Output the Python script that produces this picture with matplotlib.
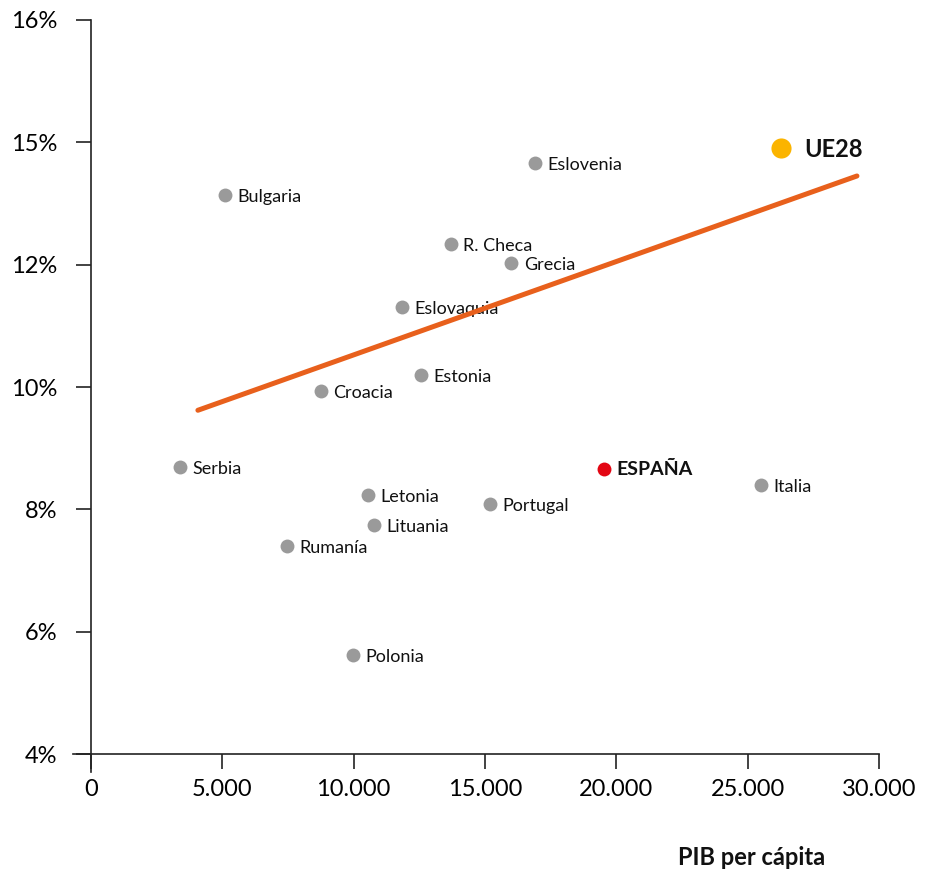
import matplotlib
matplotlib.use('Agg')
import matplotlib.pyplot as plt

plt.rcParams['font.family'] = ['Lato', 'DejaVu Sans']

# PIB per capita vs rate
countries = ["Bulgaria", "Eslovenia", "R. Checa", "Grecia", "Eslovaquia", "Estonia",
             "Croacia", "Serbia", "Italia", "Letonia", "Portugal", "Lituania",
             "Rumanía", "Polonia"]
pib = [5100, 16900, 13700, 16000, 11850, 12550, 8750, 3400, 25500, 10550, 15200,
       10780, 7460, 9970]
rate = [13.14, 13.66, 12.34, 12.03, 11.31, 10.20, 9.93, 8.69, 8.40, 8.235, 8.09,
        7.74, 7.40, 5.62]

spain_pib, spain_rate = 19530, 8.66
eu_pib, eu_rate = 26270, 13.91

trend_x = [4070, 29160]
trend_y = [9.62, 13.45]

yticks = [4, 6, 8, 10, 12, 14, 16]
ytick_labels = ["4%", "6%", "8%", "10%", "12%", "15%", "16%"]
xticks = [0, 5000, 10000, 15000, 20000, 25000, 30000]
xtick_labels = ["0", "5.000", "10.000", "15.000", "20.000", "25.000", "30.000"]

W, H = 935, 871
fig = plt.figure(figsize=(W / 100, H / 100), dpi=100)
left_px, right_px, top_px, bot_px = 72.6, 879, 20, 772.4
ax = fig.add_axes([left_px / W, (H - bot_px) / H, (right_px - left_px) / W, (bot_px - top_px) / H])
ax.set_xlim(-700, 30000)
ax.set_ylim(3.7, 16)

for side in ['top', 'right']:
    ax.spines[side].set_visible(False)
ax.spines['left'].set_position(('data', 0))
ax.spines['bottom'].set_position(('data', 4))
for side in ['left', 'bottom']:
    ax.spines[side].set_color('#222222')
    ax.spines[side].set_linewidth(1.2)
ax.spines['left'].set_bounds(3.7, 16)
ax.spines['bottom'].set_bounds(-700, 30000)

ax.set_yticks(yticks)
ax.set_yticklabels(ytick_labels)
ax.set_xticks(xticks)
ax.set_xticklabels(xtick_labels)
ax.tick_params(axis='y', length=11, width=1.2, color='#222222', pad=13, labelsize=17)
ax.tick_params(axis='x', length=11, width=1.2, color='#222222', pad=7, labelsize=17)

ax.scatter(pib, rate, s=100, color='#9a9a9a', zorder=3, linewidths=0)
for name, x, y in zip(countries, pib, rate):
    ax.annotate(name, (x, y), xytext=(9, -1.5), textcoords='offset points',
                va='center', ha='left', fontsize=13, color='#111111', zorder=2)

ax.plot(trend_x, trend_y, color='#E8601C', lw=3.6, solid_capstyle='round', zorder=4)

ax.scatter([spain_pib], [spain_rate], s=100, color='#E30613', zorder=5, linewidths=0)
ax.annotate("ESPAÑA", (spain_pib, spain_rate), xytext=(9, -0.5), textcoords='offset points',
            va='center', ha='left', fontsize=14, fontweight='bold', color='#111111')

ax.scatter([eu_pib], [eu_rate], s=210, color='#FBB400', zorder=5, linewidths=0)
ax.annotate("UE28", (eu_pib, eu_rate), xytext=(17, -1), textcoords='offset points',
            va='center', ha='left', fontsize=17, fontweight='bold', color='#111111')

fig.text(752 / W, 1 - 857 / H, "PIB per cápita", ha='center', va='center',
         fontsize=17, fontweight='bold', color='#111111')

fig.savefig("out.png", dpi=100)
